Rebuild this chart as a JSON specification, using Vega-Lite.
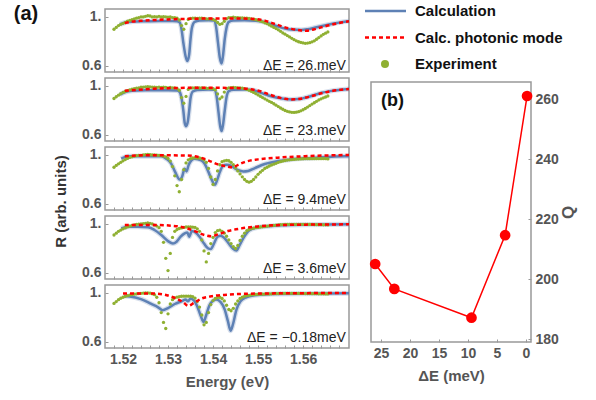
{
"$schema":"https://vega.github.io/schema/vega-lite/v6.json",
"padding":{"left":12,"top":3,"right":4,"bottom":4},
"config":{
 "font":"Liberation Sans",
 "view":{"stroke":"#999","strokeWidth":1.5},
 "axis":{"labelFont":"Liberation Sans","labelFontWeight":"bold","labelFontSize":14,"labelColor":"#555","titleFont":"Liberation Sans","titleFontWeight":"bold","titleFontSize":15,"titleColor":"#555","domain":false,"grid":false,"tickColor":"#999","tickSize":-3,"tickWidth":1,"labelPadding":7,"labelOverlap":false,"labelFlush":false}
},
"datasets":{
"calc":[
{"p":1,"x":1.5193,"y":0.94},{"p":1,"x":1.5205,"y":0.955},{"p":1,"x":1.522,"y":0.962},{"p":1,"x":1.525,"y":0.966},{"p":1,"x":1.528,"y":0.968},{"p":1,"x":1.531,"y":0.968},{"p":1,"x":1.532,"y":0.965},{"p":1,"x":1.5326,"y":0.955},{"p":1,"x":1.533,"y":0.9},{"p":1,"x":1.5334,"y":0.79},{"p":1,"x":1.5339,"y":0.68},{"p":1,"x":1.5343,"y":0.64},{"p":1,"x":1.5347,"y":0.695},{"p":1,"x":1.535,"y":0.82},{"p":1,"x":1.5353,"y":0.91},{"p":1,"x":1.5359,"y":0.96},{"p":1,"x":1.537,"y":0.972},{"p":1,"x":1.539,"y":0.974},{"p":1,"x":1.5402,"y":0.97},{"p":1,"x":1.5407,"y":0.913},{"p":1,"x":1.5411,"y":0.79},{"p":1,"x":1.5415,"y":0.668},{"p":1,"x":1.5419,"y":0.62},{"p":1,"x":1.5422,"y":0.68},{"p":1,"x":1.5426,"y":0.82},{"p":1,"x":1.543,"y":0.913},{"p":1,"x":1.5435,"y":0.96},{"p":1,"x":1.5445,"y":0.972},{"p":1,"x":1.547,"y":0.973},{"p":1,"x":1.5495,"y":0.97},{"p":1,"x":1.5515,"y":0.958},{"p":1,"x":1.553,"y":0.94},{"p":1,"x":1.5544,"y":0.922},{"p":1,"x":1.556,"y":0.905},{"p":1,"x":1.5574,"y":0.897},{"p":1,"x":1.5596,"y":0.894},{"p":1,"x":1.561,"y":0.9},{"p":1,"x":1.5625,"y":0.912},{"p":1,"x":1.564,"y":0.925},{"p":1,"x":1.5655,"y":0.937},{"p":1,"x":1.567,"y":0.948},{"p":1,"x":1.5685,"y":0.958},{"p":1,"x":1.5702,"y":0.966},
{"p":2,"x":1.5193,"y":0.93},{"p":2,"x":1.5205,"y":0.95},{"p":2,"x":1.522,"y":0.96},{"p":2,"x":1.525,"y":0.965},{"p":2,"x":1.53,"y":0.966},{"p":2,"x":1.532,"y":0.963},{"p":2,"x":1.5326,"y":0.95},{"p":2,"x":1.533,"y":0.9},{"p":2,"x":1.5334,"y":0.8},{"p":2,"x":1.5337,"y":0.7},{"p":2,"x":1.534,"y":0.672},{"p":2,"x":1.5344,"y":0.71},{"p":2,"x":1.5347,"y":0.8},{"p":2,"x":1.535,"y":0.9},{"p":2,"x":1.5355,"y":0.955},{"p":2,"x":1.5365,"y":0.968},{"p":2,"x":1.539,"y":0.972},{"p":2,"x":1.5403,"y":0.968},{"p":2,"x":1.5408,"y":0.913},{"p":2,"x":1.5412,"y":0.79},{"p":2,"x":1.5416,"y":0.67},{"p":2,"x":1.5419,"y":0.632},{"p":2,"x":1.5422,"y":0.68},{"p":2,"x":1.5426,"y":0.8},{"p":2,"x":1.543,"y":0.91},{"p":2,"x":1.5435,"y":0.958},{"p":2,"x":1.5445,"y":0.97},{"p":2,"x":1.547,"y":0.972},{"p":2,"x":1.549,"y":0.965},{"p":2,"x":1.5507,"y":0.944},{"p":2,"x":1.5525,"y":0.92},{"p":2,"x":1.5544,"y":0.904},{"p":2,"x":1.556,"y":0.894},{"p":2,"x":1.5574,"y":0.89},{"p":2,"x":1.559,"y":0.893},{"p":2,"x":1.5604,"y":0.904},{"p":2,"x":1.562,"y":0.92},{"p":2,"x":1.5641,"y":0.944},{"p":2,"x":1.566,"y":0.958},{"p":2,"x":1.568,"y":0.968},{"p":2,"x":1.5702,"y":0.975},
{"p":3,"x":1.5196,"y":0.97},{"p":3,"x":1.5211,"y":0.989},{"p":3,"x":1.525,"y":0.99},{"p":3,"x":1.5285,"y":0.99},{"p":3,"x":1.5296,"y":0.97},{"p":3,"x":1.5307,"y":0.93},{"p":3,"x":1.5316,"y":0.86},{"p":3,"x":1.5326,"y":0.8},{"p":3,"x":1.5331,"y":0.82},{"p":3,"x":1.5337,"y":0.888},{"p":3,"x":1.5341,"y":0.866},{"p":3,"x":1.5346,"y":0.92},{"p":3,"x":1.5352,"y":0.956},{"p":3,"x":1.5359,"y":0.97},{"p":3,"x":1.5374,"y":0.956},{"p":3,"x":1.5381,"y":0.93},{"p":3,"x":1.539,"y":0.86},{"p":3,"x":1.5398,"y":0.79},{"p":3,"x":1.5404,"y":0.756},{"p":3,"x":1.541,"y":0.805},{"p":3,"x":1.5415,"y":0.86},{"p":3,"x":1.5422,"y":0.91},{"p":3,"x":1.543,"y":0.92},{"p":3,"x":1.5441,"y":0.91},{"p":3,"x":1.5452,"y":0.882},{"p":3,"x":1.5467,"y":0.866},{"p":3,"x":1.5478,"y":0.87},{"p":3,"x":1.5493,"y":0.893},{"p":3,"x":1.5515,"y":0.926},{"p":3,"x":1.5544,"y":0.95},{"p":3,"x":1.5574,"y":0.964},{"p":3,"x":1.5619,"y":0.975},{"p":3,"x":1.5693,"y":0.99},{"p":3,"x":1.5702,"y":0.99},
{"p":4,"x":1.5196,"y":0.964},{"p":4,"x":1.5211,"y":0.978},{"p":4,"x":1.5233,"y":0.978},{"p":4,"x":1.5256,"y":0.973},{"p":4,"x":1.527,"y":0.951},{"p":4,"x":1.5285,"y":0.91},{"p":4,"x":1.53,"y":0.86},{"p":4,"x":1.5311,"y":0.84},{"p":4,"x":1.5319,"y":0.855},{"p":4,"x":1.5328,"y":0.896},{"p":4,"x":1.5337,"y":0.923},{"p":4,"x":1.5343,"y":0.93},{"p":4,"x":1.5347,"y":0.896},{"p":4,"x":1.5353,"y":0.942},{"p":4,"x":1.5361,"y":0.93},{"p":4,"x":1.537,"y":0.896},{"p":4,"x":1.538,"y":0.84},{"p":4,"x":1.5389,"y":0.8},{"p":4,"x":1.5395,"y":0.795},{"p":4,"x":1.5402,"y":0.84},{"p":4,"x":1.541,"y":0.896},{"p":4,"x":1.5417,"y":0.904},{"p":4,"x":1.5426,"y":0.882},{"p":4,"x":1.5435,"y":0.84},{"p":4,"x":1.5444,"y":0.8},{"p":4,"x":1.5452,"y":0.784},{"p":4,"x":1.5459,"y":0.827},{"p":4,"x":1.5469,"y":0.896},{"p":4,"x":1.5481,"y":0.95},{"p":4,"x":1.55,"y":0.973},{"p":4,"x":1.553,"y":0.984},{"p":4,"x":1.5574,"y":0.992},{"p":4,"x":1.5702,"y":0.997},
{"p":5,"x":1.5202,"y":0.975},{"p":5,"x":1.5215,"y":0.972},{"p":5,"x":1.524,"y":0.95},{"p":5,"x":1.5263,"y":0.91},{"p":5,"x":1.5278,"y":0.883},{"p":5,"x":1.5288,"y":0.86},{"p":5,"x":1.53,"y":0.877},{"p":5,"x":1.5315,"y":0.91},{"p":5,"x":1.533,"y":0.932},{"p":5,"x":1.5339,"y":0.946},{"p":5,"x":1.5344,"y":0.932},{"p":5,"x":1.535,"y":0.954},{"p":5,"x":1.5358,"y":0.937},{"p":5,"x":1.5365,"y":0.89},{"p":5,"x":1.5373,"y":0.81},{"p":5,"x":1.5379,"y":0.763},{"p":5,"x":1.5384,"y":0.81},{"p":5,"x":1.5392,"y":0.9},{"p":5,"x":1.54,"y":0.937},{"p":5,"x":1.5407,"y":0.946},{"p":5,"x":1.5417,"y":0.926},{"p":5,"x":1.5426,"y":0.864},{"p":5,"x":1.5433,"y":0.77},{"p":5,"x":1.5439,"y":0.692},{"p":5,"x":1.5444,"y":0.741},{"p":5,"x":1.5452,"y":0.864},{"p":5,"x":1.5461,"y":0.932},{"p":5,"x":1.5474,"y":0.965},{"p":5,"x":1.5493,"y":0.981},{"p":5,"x":1.553,"y":0.992},{"p":5,"x":1.5702,"y":0.997}
],
"phot":[
{"p":1,"x":1.5204,"y":0.95},{"p":1,"x":1.522,"y":0.962},{"p":1,"x":1.5245,"y":0.97},{"p":1,"x":1.527,"y":0.975},{"p":1,"x":1.53,"y":0.98},{"p":1,"x":1.535,"y":0.985},{"p":1,"x":1.54,"y":0.988},{"p":1,"x":1.545,"y":0.988},{"p":1,"x":1.549,"y":0.984},{"p":1,"x":1.5515,"y":0.97},{"p":1,"x":1.553,"y":0.952},{"p":1,"x":1.5544,"y":0.935},{"p":1,"x":1.556,"y":0.915},{"p":1,"x":1.5574,"y":0.903},{"p":1,"x":1.5596,"y":0.89},{"p":1,"x":1.561,"y":0.888},{"p":1,"x":1.5625,"y":0.9},{"p":1,"x":1.564,"y":0.915},{"p":1,"x":1.5655,"y":0.93},{"p":1,"x":1.567,"y":0.943},{"p":1,"x":1.5685,"y":0.955},{"p":1,"x":1.5702,"y":0.965},
{"p":2,"x":1.5204,"y":0.96},{"p":2,"x":1.523,"y":0.968},{"p":2,"x":1.527,"y":0.978},{"p":2,"x":1.53,"y":0.982},{"p":2,"x":1.535,"y":0.985},{"p":2,"x":1.54,"y":0.985},{"p":2,"x":1.545,"y":0.983},{"p":2,"x":1.548,"y":0.975},{"p":2,"x":1.5507,"y":0.955},{"p":2,"x":1.5525,"y":0.93},{"p":2,"x":1.5544,"y":0.908},{"p":2,"x":1.556,"y":0.895},{"p":2,"x":1.5574,"y":0.89},{"p":2,"x":1.559,"y":0.893},{"p":2,"x":1.5604,"y":0.903},{"p":2,"x":1.562,"y":0.918},{"p":2,"x":1.5641,"y":0.94},{"p":2,"x":1.566,"y":0.956},{"p":2,"x":1.568,"y":0.968},{"p":2,"x":1.5702,"y":0.975},
{"p":3,"x":1.5204,"y":0.99},{"p":3,"x":1.525,"y":0.997},{"p":3,"x":1.53,"y":0.997},{"p":3,"x":1.5344,"y":0.995},{"p":3,"x":1.5367,"y":0.984},{"p":3,"x":1.5389,"y":0.956},{"p":3,"x":1.5411,"y":0.923},{"p":3,"x":1.543,"y":0.907},{"p":3,"x":1.5444,"y":0.9},{"p":3,"x":1.5456,"y":0.92},{"p":3,"x":1.547,"y":0.942},{"p":3,"x":1.55,"y":0.964},{"p":3,"x":1.5544,"y":0.978},{"p":3,"x":1.5604,"y":0.99},{"p":3,"x":1.5702,"y":1.0},
{"p":4,"x":1.5204,"y":0.992},{"p":4,"x":1.527,"y":0.992},{"p":4,"x":1.5307,"y":0.986},{"p":4,"x":1.5337,"y":0.97},{"p":4,"x":1.5359,"y":0.942},{"p":4,"x":1.5381,"y":0.91},{"p":4,"x":1.5396,"y":0.9},{"p":4,"x":1.5411,"y":0.915},{"p":4,"x":1.5433,"y":0.942},{"p":4,"x":1.5463,"y":0.964},{"p":4,"x":1.55,"y":0.98},{"p":4,"x":1.5559,"y":0.992},{"p":4,"x":1.5702,"y":0.997},
{"p":5,"x":1.52,"y":0.995},{"p":5,"x":1.527,"y":0.995},{"p":5,"x":1.5293,"y":0.986},{"p":5,"x":1.5315,"y":0.959},{"p":5,"x":1.5333,"y":0.926},{"p":5,"x":1.5345,"y":0.895},{"p":5,"x":1.5358,"y":0.92},{"p":5,"x":1.5374,"y":0.954},{"p":5,"x":1.5396,"y":0.973},{"p":5,"x":1.5433,"y":0.986},{"p":5,"x":1.5493,"y":0.995},{"p":5,"x":1.5702,"y":1.0}
],
"exp":[
{"p":1,"x":1.518,"y":0.9},{"p":1,"x":1.5185,"y":0.915},{"p":1,"x":1.519,"y":0.93},{"p":1,"x":1.5195,"y":0.94},{"p":1,"x":1.52,"y":0.948},{"p":1,"x":1.5205,"y":0.955},{"p":1,"x":1.521,"y":0.965},{"p":1,"x":1.5215,"y":0.972},{"p":1,"x":1.522,"y":0.978},{"p":1,"x":1.5225,"y":0.985},{"p":1,"x":1.523,"y":0.99},{"p":1,"x":1.5235,"y":0.995},{"p":1,"x":1.524,"y":1.0},{"p":1,"x":1.5245,"y":1.0},{"p":1,"x":1.525,"y":1.005},{"p":1,"x":1.5255,"y":1.01},{"p":1,"x":1.526,"y":1.008},{"p":1,"x":1.5265,"y":1.0},{"p":1,"x":1.527,"y":1.003},{"p":1,"x":1.5275,"y":1.0},{"p":1,"x":1.528,"y":1.005},{"p":1,"x":1.5285,"y":1.0},{"p":1,"x":1.529,"y":1.002},{"p":1,"x":1.5295,"y":1.0},{"p":1,"x":1.53,"y":0.998},{"p":1,"x":1.5305,"y":1.0},{"p":1,"x":1.531,"y":0.995},{"p":1,"x":1.5315,"y":0.995},{"p":1,"x":1.532,"y":0.99},{"p":1,"x":1.5325,"y":0.975},{"p":1,"x":1.533,"y":0.93},{"p":1,"x":1.5335,"y":0.9},{"p":1,"x":1.534,"y":0.945},{"p":1,"x":1.5345,"y":0.98},{"p":1,"x":1.535,"y":0.988},{"p":1,"x":1.5355,"y":0.99},{"p":1,"x":1.536,"y":0.99},{"p":1,"x":1.5365,"y":0.988},{"p":1,"x":1.537,"y":0.99},{"p":1,"x":1.5375,"y":0.99},{"p":1,"x":1.538,"y":0.988},{"p":1,"x":1.5385,"y":0.985},{"p":1,"x":1.539,"y":0.985},{"p":1,"x":1.5395,"y":0.985},{"p":1,"x":1.54,"y":0.98},{"p":1,"x":1.5405,"y":0.972},{"p":1,"x":1.541,"y":0.955},{"p":1,"x":1.5415,"y":0.94},{"p":1,"x":1.542,"y":0.945},{"p":1,"x":1.5425,"y":0.965},{"p":1,"x":1.543,"y":0.985},{"p":1,"x":1.5435,"y":0.995},{"p":1,"x":1.544,"y":0.995},{"p":1,"x":1.5445,"y":0.998},{"p":1,"x":1.545,"y":0.995},{"p":1,"x":1.5455,"y":0.995},{"p":1,"x":1.546,"y":0.993},{"p":1,"x":1.5465,"y":0.993},{"p":1,"x":1.547,"y":0.99},{"p":1,"x":1.5475,"y":0.99},{"p":1,"x":1.548,"y":0.988},{"p":1,"x":1.5485,"y":0.985},{"p":1,"x":1.549,"y":0.982},{"p":1,"x":1.5495,"y":0.978},{"p":1,"x":1.55,"y":0.973},{"p":1,"x":1.5505,"y":0.967},{"p":1,"x":1.551,"y":0.96},{"p":1,"x":1.5515,"y":0.953},{"p":1,"x":1.552,"y":0.945},{"p":1,"x":1.5525,"y":0.935},{"p":1,"x":1.553,"y":0.925},{"p":1,"x":1.5535,"y":0.915},{"p":1,"x":1.554,"y":0.905},{"p":1,"x":1.5545,"y":0.895},{"p":1,"x":1.555,"y":0.883},{"p":1,"x":1.5555,"y":0.87},{"p":1,"x":1.556,"y":0.86},{"p":1,"x":1.5565,"y":0.848},{"p":1,"x":1.557,"y":0.837},{"p":1,"x":1.5575,"y":0.826},{"p":1,"x":1.558,"y":0.815},{"p":1,"x":1.5585,"y":0.805},{"p":1,"x":1.559,"y":0.798},{"p":1,"x":1.5595,"y":0.792},{"p":1,"x":1.56,"y":0.788},{"p":1,"x":1.5605,"y":0.785},{"p":1,"x":1.561,"y":0.787},{"p":1,"x":1.5615,"y":0.79},{"p":1,"x":1.562,"y":0.797},{"p":1,"x":1.5625,"y":0.805},{"p":1,"x":1.563,"y":0.818},{"p":1,"x":1.5635,"y":0.832},{"p":1,"x":1.564,"y":0.845},{"p":1,"x":1.5645,"y":0.858},{"p":1,"x":1.565,"y":0.868},{"p":1,"x":1.5655,"y":0.878},
{"p":2,"x":1.518,"y":0.898},{"p":2,"x":1.5185,"y":0.912},{"p":2,"x":1.519,"y":0.925},{"p":2,"x":1.5195,"y":0.937},{"p":2,"x":1.52,"y":0.947},{"p":2,"x":1.5205,"y":0.955},{"p":2,"x":1.521,"y":0.962},{"p":2,"x":1.5215,"y":0.968},{"p":2,"x":1.522,"y":0.973},{"p":2,"x":1.5225,"y":0.978},{"p":2,"x":1.523,"y":0.982},{"p":2,"x":1.5235,"y":0.985},{"p":2,"x":1.524,"y":0.99},{"p":2,"x":1.5245,"y":0.99},{"p":2,"x":1.525,"y":0.993},{"p":2,"x":1.5255,"y":0.995},{"p":2,"x":1.526,"y":0.993},{"p":2,"x":1.5265,"y":0.99},{"p":2,"x":1.527,"y":0.99},{"p":2,"x":1.5275,"y":0.988},{"p":2,"x":1.528,"y":0.99},{"p":2,"x":1.5285,"y":0.988},{"p":2,"x":1.529,"y":0.99},{"p":2,"x":1.5295,"y":0.988},{"p":2,"x":1.53,"y":0.985},{"p":2,"x":1.5305,"y":0.988},{"p":2,"x":1.531,"y":0.985},{"p":2,"x":1.5315,"y":0.985},{"p":2,"x":1.532,"y":0.98},{"p":2,"x":1.5325,"y":0.965},{"p":2,"x":1.533,"y":0.905},{"p":2,"x":1.5335,"y":0.86},{"p":2,"x":1.534,"y":0.915},{"p":2,"x":1.5345,"y":0.972},{"p":2,"x":1.535,"y":0.982},{"p":2,"x":1.5355,"y":0.985},{"p":2,"x":1.536,"y":0.985},{"p":2,"x":1.5365,"y":0.984},{"p":2,"x":1.537,"y":0.984},{"p":2,"x":1.5375,"y":0.984},{"p":2,"x":1.538,"y":0.982},{"p":2,"x":1.5385,"y":0.982},{"p":2,"x":1.539,"y":0.98},{"p":2,"x":1.5395,"y":0.98},{"p":2,"x":1.54,"y":0.978},{"p":2,"x":1.5405,"y":0.968},{"p":2,"x":1.541,"y":0.935},{"p":2,"x":1.5415,"y":0.895},{"p":2,"x":1.542,"y":0.91},{"p":2,"x":1.5425,"y":0.95},{"p":2,"x":1.543,"y":0.978},{"p":2,"x":1.5435,"y":0.985},{"p":2,"x":1.544,"y":0.987},{"p":2,"x":1.5445,"y":0.988},{"p":2,"x":1.545,"y":0.987},{"p":2,"x":1.5455,"y":0.985},{"p":2,"x":1.546,"y":0.985},{"p":2,"x":1.5465,"y":0.983},{"p":2,"x":1.547,"y":0.978},{"p":2,"x":1.5475,"y":0.972},{"p":2,"x":1.548,"y":0.965},{"p":2,"x":1.5485,"y":0.957},{"p":2,"x":1.549,"y":0.947},{"p":2,"x":1.5495,"y":0.937},{"p":2,"x":1.55,"y":0.927},{"p":2,"x":1.5505,"y":0.916},{"p":2,"x":1.551,"y":0.905},{"p":2,"x":1.5515,"y":0.895},{"p":2,"x":1.552,"y":0.885},{"p":2,"x":1.5525,"y":0.875},{"p":2,"x":1.553,"y":0.866},{"p":2,"x":1.5535,"y":0.855},{"p":2,"x":1.554,"y":0.843},{"p":2,"x":1.5545,"y":0.832},{"p":2,"x":1.555,"y":0.82},{"p":2,"x":1.5555,"y":0.81},{"p":2,"x":1.556,"y":0.8},{"p":2,"x":1.5565,"y":0.793},{"p":2,"x":1.557,"y":0.788},{"p":2,"x":1.5575,"y":0.785},{"p":2,"x":1.558,"y":0.784},{"p":2,"x":1.5585,"y":0.786},{"p":2,"x":1.559,"y":0.79},{"p":2,"x":1.5595,"y":0.797},{"p":2,"x":1.56,"y":0.806},{"p":2,"x":1.5605,"y":0.816},{"p":2,"x":1.561,"y":0.828},{"p":2,"x":1.5615,"y":0.84},{"p":2,"x":1.562,"y":0.852},{"p":2,"x":1.5625,"y":0.863},{"p":2,"x":1.563,"y":0.875},{"p":2,"x":1.5635,"y":0.886},{"p":2,"x":1.564,"y":0.895},{"p":2,"x":1.5645,"y":0.903},{"p":2,"x":1.565,"y":0.91},{"p":2,"x":1.5655,"y":0.918},
{"p":3,"x":1.518,"y":0.9},{"p":3,"x":1.5185,"y":0.915},{"p":3,"x":1.519,"y":0.928},{"p":3,"x":1.5195,"y":0.94},{"p":3,"x":1.52,"y":0.952},{"p":3,"x":1.5205,"y":0.962},{"p":3,"x":1.521,"y":0.972},{"p":3,"x":1.5215,"y":0.98},{"p":3,"x":1.522,"y":0.985},{"p":3,"x":1.5225,"y":0.99},{"p":3,"x":1.523,"y":0.995},{"p":3,"x":1.5235,"y":0.997},{"p":3,"x":1.524,"y":0.997},{"p":3,"x":1.5245,"y":1.0},{"p":3,"x":1.525,"y":1.003},{"p":3,"x":1.5255,"y":1.005},{"p":3,"x":1.526,"y":1.002},{"p":3,"x":1.5265,"y":1.0},{"p":3,"x":1.527,"y":1.0},{"p":3,"x":1.5275,"y":0.998},{"p":3,"x":1.528,"y":0.997},{"p":3,"x":1.5285,"y":0.995},{"p":3,"x":1.529,"y":0.99},{"p":3,"x":1.5295,"y":0.985},{"p":3,"x":1.53,"y":0.972},{"p":3,"x":1.5305,"y":0.95},{"p":3,"x":1.531,"y":0.905},{"p":3,"x":1.5315,"y":0.83},{"p":3,"x":1.532,"y":0.75},{"p":3,"x":1.5325,"y":0.7},{"p":3,"x":1.533,"y":0.8},{"p":3,"x":1.5335,"y":0.88},{"p":3,"x":1.534,"y":0.935},{"p":3,"x":1.5345,"y":0.96},{"p":3,"x":1.535,"y":0.97},{"p":3,"x":1.5355,"y":0.975},{"p":3,"x":1.536,"y":0.977},{"p":3,"x":1.5365,"y":0.975},{"p":3,"x":1.537,"y":0.975},{"p":3,"x":1.5375,"y":0.97},{"p":3,"x":1.538,"y":0.96},{"p":3,"x":1.5385,"y":0.94},{"p":3,"x":1.539,"y":0.89},{"p":3,"x":1.5395,"y":0.82},{"p":3,"x":1.54,"y":0.76},{"p":3,"x":1.5405,"y":0.8},{"p":3,"x":1.541,"y":0.87},{"p":3,"x":1.5415,"y":0.92},{"p":3,"x":1.542,"y":0.945},{"p":3,"x":1.5425,"y":0.952},{"p":3,"x":1.543,"y":0.956},{"p":3,"x":1.5435,"y":0.953},{"p":3,"x":1.544,"y":0.94},{"p":3,"x":1.5445,"y":0.92},{"p":3,"x":1.545,"y":0.895},{"p":3,"x":1.5455,"y":0.87},{"p":3,"x":1.546,"y":0.845},{"p":3,"x":1.5465,"y":0.822},{"p":3,"x":1.547,"y":0.8},{"p":3,"x":1.5475,"y":0.785},{"p":3,"x":1.548,"y":0.778},{"p":3,"x":1.5485,"y":0.785},{"p":3,"x":1.549,"y":0.8},{"p":3,"x":1.5495,"y":0.82},{"p":3,"x":1.55,"y":0.842},{"p":3,"x":1.5505,"y":0.86},{"p":3,"x":1.551,"y":0.875},{"p":3,"x":1.5515,"y":0.89},{"p":3,"x":1.552,"y":0.9},{"p":3,"x":1.5525,"y":0.91},{"p":3,"x":1.553,"y":0.918},{"p":3,"x":1.5535,"y":0.925},{"p":3,"x":1.554,"y":0.932},{"p":3,"x":1.5545,"y":0.94},{"p":3,"x":1.555,"y":0.945},{"p":3,"x":1.5555,"y":0.95},{"p":3,"x":1.556,"y":0.955},{"p":3,"x":1.5565,"y":0.958},{"p":3,"x":1.557,"y":0.96},{"p":3,"x":1.5575,"y":0.962},{"p":3,"x":1.558,"y":0.964},{"p":3,"x":1.5585,"y":0.966},{"p":3,"x":1.559,"y":0.967},{"p":3,"x":1.5595,"y":0.968},{"p":3,"x":1.56,"y":0.969},{"p":3,"x":1.5605,"y":0.97},{"p":3,"x":1.561,"y":0.97},{"p":3,"x":1.5615,"y":0.97},{"p":3,"x":1.562,"y":0.97},{"p":3,"x":1.5625,"y":0.97},{"p":3,"x":1.563,"y":0.97},{"p":3,"x":1.5635,"y":0.97},{"p":3,"x":1.564,"y":0.97},{"p":3,"x":1.5645,"y":0.97},{"p":3,"x":1.565,"y":0.97},{"p":3,"x":1.5655,"y":0.968},
{"p":4,"x":1.518,"y":0.91},{"p":4,"x":1.5185,"y":0.925},{"p":4,"x":1.519,"y":0.94},{"p":4,"x":1.5195,"y":0.95},{"p":4,"x":1.52,"y":0.96},{"p":4,"x":1.5205,"y":0.968},{"p":4,"x":1.521,"y":0.976},{"p":4,"x":1.5215,"y":0.983},{"p":4,"x":1.522,"y":0.988},{"p":4,"x":1.5225,"y":0.993},{"p":4,"x":1.523,"y":0.996},{"p":4,"x":1.5235,"y":0.998},{"p":4,"x":1.524,"y":1.0},{"p":4,"x":1.5245,"y":1.003},{"p":4,"x":1.525,"y":1.005},{"p":4,"x":1.5255,"y":1.008},{"p":4,"x":1.526,"y":1.005},{"p":4,"x":1.5265,"y":1.0},{"p":4,"x":1.527,"y":0.99},{"p":4,"x":1.5275,"y":0.983},{"p":4,"x":1.528,"y":0.97},{"p":4,"x":1.5285,"y":0.94},{"p":4,"x":1.529,"y":0.85},{"p":4,"x":1.5295,"y":0.72},{"p":4,"x":1.53,"y":0.62},{"p":4,"x":1.5305,"y":0.76},{"p":4,"x":1.531,"y":0.89},{"p":4,"x":1.5315,"y":0.94},{"p":4,"x":1.532,"y":0.955},{"p":4,"x":1.5325,"y":0.963},{"p":4,"x":1.533,"y":0.968},{"p":4,"x":1.5335,"y":0.972},{"p":4,"x":1.534,"y":0.975},{"p":4,"x":1.5345,"y":0.975},{"p":4,"x":1.535,"y":0.975},{"p":4,"x":1.5355,"y":0.974},{"p":4,"x":1.536,"y":0.972},{"p":4,"x":1.5365,"y":0.96},{"p":4,"x":1.537,"y":0.94},{"p":4,"x":1.5375,"y":0.87},{"p":4,"x":1.538,"y":0.78},{"p":4,"x":1.5385,"y":0.69},{"p":4,"x":1.539,"y":0.76},{"p":4,"x":1.5395,"y":0.84},{"p":4,"x":1.54,"y":0.89},{"p":4,"x":1.5405,"y":0.93},{"p":4,"x":1.541,"y":0.945},{"p":4,"x":1.5415,"y":0.95},{"p":4,"x":1.542,"y":0.94},{"p":4,"x":1.5425,"y":0.925},{"p":4,"x":1.543,"y":0.9},{"p":4,"x":1.5435,"y":0.87},{"p":4,"x":1.544,"y":0.84},{"p":4,"x":1.5445,"y":0.815},{"p":4,"x":1.545,"y":0.8},{"p":4,"x":1.5455,"y":0.825},{"p":4,"x":1.546,"y":0.865},{"p":4,"x":1.5465,"y":0.9},{"p":4,"x":1.547,"y":0.925},{"p":4,"x":1.5475,"y":0.945},{"p":4,"x":1.548,"y":0.955},{"p":4,"x":1.5485,"y":0.962},{"p":4,"x":1.549,"y":0.966},{"p":4,"x":1.5495,"y":0.97},{"p":4,"x":1.55,"y":0.972},{"p":4,"x":1.5505,"y":0.975},{"p":4,"x":1.551,"y":0.977},{"p":4,"x":1.5515,"y":0.979},{"p":4,"x":1.552,"y":0.982},{"p":4,"x":1.5525,"y":0.985},{"p":4,"x":1.553,"y":0.987},{"p":4,"x":1.5535,"y":0.989},{"p":4,"x":1.554,"y":0.991},{"p":4,"x":1.5545,"y":0.992},{"p":4,"x":1.555,"y":0.994},{"p":4,"x":1.5555,"y":0.995},{"p":4,"x":1.556,"y":0.996},{"p":4,"x":1.5565,"y":0.997},{"p":4,"x":1.557,"y":0.997},{"p":4,"x":1.5575,"y":0.997},{"p":4,"x":1.558,"y":0.997},{"p":4,"x":1.5585,"y":0.997},{"p":4,"x":1.559,"y":0.997},{"p":4,"x":1.5595,"y":0.997},{"p":4,"x":1.56,"y":0.997},{"p":4,"x":1.5605,"y":0.997},{"p":4,"x":1.561,"y":0.996},{"p":4,"x":1.5615,"y":0.996},{"p":4,"x":1.562,"y":0.996},{"p":4,"x":1.5625,"y":0.995},{"p":4,"x":1.563,"y":0.995},{"p":4,"x":1.5635,"y":0.994},{"p":4,"x":1.564,"y":0.994},{"p":4,"x":1.5645,"y":0.993},{"p":4,"x":1.565,"y":0.993},{"p":4,"x":1.5655,"y":0.992},
{"p":5,"x":1.518,"y":0.915},{"p":5,"x":1.5185,"y":0.93},{"p":5,"x":1.519,"y":0.945},{"p":5,"x":1.5195,"y":0.957},{"p":5,"x":1.52,"y":0.965},{"p":5,"x":1.5205,"y":0.972},{"p":5,"x":1.521,"y":0.978},{"p":5,"x":1.5215,"y":0.983},{"p":5,"x":1.522,"y":0.986},{"p":5,"x":1.5225,"y":0.99},{"p":5,"x":1.523,"y":0.993},{"p":5,"x":1.5235,"y":0.995},{"p":5,"x":1.524,"y":0.997},{"p":5,"x":1.5245,"y":0.998},{"p":5,"x":1.525,"y":1.0},{"p":5,"x":1.5255,"y":1.0},{"p":5,"x":1.526,"y":0.998},{"p":5,"x":1.5265,"y":0.993},{"p":5,"x":1.527,"y":0.986},{"p":5,"x":1.5275,"y":0.965},{"p":5,"x":1.528,"y":0.92},{"p":5,"x":1.5285,"y":0.84},{"p":5,"x":1.529,"y":0.76},{"p":5,"x":1.5295,"y":0.71},{"p":5,"x":1.53,"y":0.83},{"p":5,"x":1.5305,"y":0.91},{"p":5,"x":1.531,"y":0.945},{"p":5,"x":1.5315,"y":0.96},{"p":5,"x":1.532,"y":0.966},{"p":5,"x":1.5325,"y":0.97},{"p":5,"x":1.533,"y":0.973},{"p":5,"x":1.5335,"y":0.974},{"p":5,"x":1.534,"y":0.974},{"p":5,"x":1.5345,"y":0.974},{"p":5,"x":1.535,"y":0.973},{"p":5,"x":1.5355,"y":0.97},{"p":5,"x":1.536,"y":0.958},{"p":5,"x":1.5365,"y":0.93},{"p":5,"x":1.537,"y":0.885},{"p":5,"x":1.5375,"y":0.82},{"p":5,"x":1.538,"y":0.74},{"p":5,"x":1.5385,"y":0.76},{"p":5,"x":1.539,"y":0.84},{"p":5,"x":1.5395,"y":0.905},{"p":5,"x":1.54,"y":0.938},{"p":5,"x":1.5405,"y":0.955},{"p":5,"x":1.541,"y":0.962},{"p":5,"x":1.5415,"y":0.965},{"p":5,"x":1.542,"y":0.955},{"p":5,"x":1.5425,"y":0.935},{"p":5,"x":1.543,"y":0.9},{"p":5,"x":1.5435,"y":0.865},{"p":5,"x":1.544,"y":0.855},{"p":5,"x":1.5445,"y":0.875},{"p":5,"x":1.545,"y":0.91},{"p":5,"x":1.5455,"y":0.935},{"p":5,"x":1.546,"y":0.955},{"p":5,"x":1.5465,"y":0.966},{"p":5,"x":1.547,"y":0.973},{"p":5,"x":1.5475,"y":0.978},{"p":5,"x":1.548,"y":0.981},{"p":5,"x":1.5485,"y":0.984},{"p":5,"x":1.549,"y":0.986},{"p":5,"x":1.5495,"y":0.988},{"p":5,"x":1.55,"y":0.989},{"p":5,"x":1.5505,"y":0.99},{"p":5,"x":1.551,"y":0.99},{"p":5,"x":1.5515,"y":0.991},{"p":5,"x":1.552,"y":0.992},{"p":5,"x":1.5525,"y":0.992},{"p":5,"x":1.553,"y":0.993},{"p":5,"x":1.5535,"y":0.994},{"p":5,"x":1.554,"y":0.995},{"p":5,"x":1.5545,"y":0.995},{"p":5,"x":1.555,"y":0.996},{"p":5,"x":1.5555,"y":0.997},{"p":5,"x":1.556,"y":0.997},{"p":5,"x":1.5565,"y":0.997},{"p":5,"x":1.557,"y":0.997},{"p":5,"x":1.5575,"y":0.997},{"p":5,"x":1.558,"y":0.997},{"p":5,"x":1.5585,"y":0.997},{"p":5,"x":1.559,"y":0.996},{"p":5,"x":1.5595,"y":0.996},{"p":5,"x":1.56,"y":0.996},{"p":5,"x":1.5605,"y":0.995},{"p":5,"x":1.561,"y":0.995},{"p":5,"x":1.5615,"y":0.995},{"p":5,"x":1.562,"y":0.994},{"p":5,"x":1.5625,"y":0.994},{"p":5,"x":1.563,"y":0.994},{"p":5,"x":1.5635,"y":0.993},{"p":5,"x":1.564,"y":0.993},{"p":5,"x":1.5645,"y":0.993},{"p":5,"x":1.565,"y":0.992},{"p":5,"x":1.5655,"y":0.992}
],
"lab":[{"p":1,"t":"ΔE = 26.meV"},{"p":2,"t":"ΔE = 23.meV"},{"p":3,"t":"ΔE = 9.4meV"},{"p":4,"t":"ΔE = 3.6meV"},{"p":5,"t":"ΔE = −0.18meV"}],
"tag":[{"t":"(a)"},{"t":"(b)"}],
"leg":[{"label":"Calculation"},{"label":"Calc. photonic mode"},{"label":"Experiment"}],
"q":[{"dE":26.0,"Q":205.0},{"dE":22.7,"Q":196.7},{"dE":9.4,"Q":187.1},{"dE":3.6,"Q":214.6},{"dE":-0.18,"Q":261.0}]
},
"spacing":3,
"hconcat":[
{"vconcat":[
 {"width":244,"height":63,
  "layer":[
   {"encoding":{"x":{"field":"x","type":"quantitative","scale":{"domain":[1.516,1.5702],"nice":false,"zero":false},"axis":{"values":[1.518,1.52,1.522,1.524,1.526,1.528,1.53,1.532,1.534,1.536,1.538,1.54,1.542,1.544,1.546,1.548,1.55,1.552,1.554,1.556,1.558,1.56,1.562,1.564,1.566,1.568],"labels":false,"title":null}},
     "y":{"field":"y","type":"quantitative","scale":{"domain":[0.551,1.065],"nice":false,"zero":false},"axis":{"values":[0.6,1],"labelExpr":"datum.value==1?'1.':'0.6'","title":null}}},
    "layer":[
     {"data":{"name":"calc"},"transform":[{"filter":"datum.p==1"}],"mark":{"type":"line","color":"#5E81B5","strokeWidth":5,"opacity":0.25,"interpolate":"monotone"}},
     {"data":{"name":"calc"},"transform":[{"filter":"datum.p==1"}],"mark":{"type":"line","color":"#5E81B5","strokeWidth":2.5,"interpolate":"monotone"}},
     {"data":{"name":"exp"},"transform":[{"filter":"datum.p==1"}],"mark":{"type":"circle","color":"#8FB032","size":11,"opacity":1}},
     {"data":{"name":"phot"},"transform":[{"filter":"datum.p==1"}],"mark":{"type":"line","color":"#FF0000","strokeWidth":2.5,"strokeDash":[4,3],"interpolate":"monotone"}}
    ]},
   {"data":{"name":"lab"},"transform":[{"filter":"datum.p==1"}],"mark":{"type":"text","align":"right","baseline":"alphabetic","fontSize":14,"color":"#222"},"encoding":{"x":{"datum":1.5695,"type":"quantitative","axis":{"values":[1.518,1.52,1.522,1.524,1.526,1.528,1.53,1.532,1.534,1.536,1.538,1.54,1.542,1.544,1.546,1.548,1.55,1.552,1.554,1.556,1.558,1.56,1.562,1.564,1.566,1.568],"labels":false,"title":null}},"y":{"datum":0.567,"type":"quantitative","axis":{"values":[0.6,1],"labelExpr":"datum.value==1?'1.':'0.6'","title":null}},"text":{"field":"t","type":"nominal"}}},
   {"data":{"name":"tag"},"transform":[{"filter":"datum.t=='(a)'"}],"mark":{"type":"text","align":"center","baseline":"middle","fontSize":20,"fontWeight":"bold","color":"#111"},"encoding":{"x":{"datum":1.49844,"type":"quantitative","axis":{"values":[1.518,1.52,1.522,1.524,1.526,1.528,1.53,1.532,1.534,1.536,1.538,1.54,1.542,1.544,1.546,1.548,1.55,1.552,1.554,1.556,1.558,1.56,1.562,1.564,1.566,1.568],"labels":false,"title":null}},"y":{"datum":1.024,"type":"quantitative","axis":{"values":[0.6,1],"labelExpr":"datum.value==1?'1.':'0.6'","title":null}},"text":{"field":"t","type":"nominal"}}}
  ]},
 {"width":244,"height":63,
  "layer":[
   {"encoding":{"x":{"field":"x","type":"quantitative","scale":{"domain":[1.516,1.5702],"nice":false,"zero":false},"axis":{"values":[1.518,1.52,1.522,1.524,1.526,1.528,1.53,1.532,1.534,1.536,1.538,1.54,1.542,1.544,1.546,1.548,1.55,1.552,1.554,1.556,1.558,1.56,1.562,1.564,1.566,1.568],"labels":false,"title":null}},
     "y":{"field":"y","type":"quantitative","scale":{"domain":[0.551,1.065],"nice":false,"zero":false},"axis":{"values":[0.6,1],"labelExpr":"datum.value==1?'1.':'0.6'","title":null}}},
    "layer":[
     {"data":{"name":"calc"},"transform":[{"filter":"datum.p==2"}],"mark":{"type":"line","color":"#5E81B5","strokeWidth":5,"opacity":0.25,"interpolate":"monotone"}},
     {"data":{"name":"calc"},"transform":[{"filter":"datum.p==2"}],"mark":{"type":"line","color":"#5E81B5","strokeWidth":2.5,"interpolate":"monotone"}},
     {"data":{"name":"exp"},"transform":[{"filter":"datum.p==2"}],"mark":{"type":"circle","color":"#8FB032","size":11,"opacity":1}},
     {"data":{"name":"phot"},"transform":[{"filter":"datum.p==2"}],"mark":{"type":"line","color":"#FF0000","strokeWidth":2.5,"strokeDash":[4,3],"interpolate":"monotone"}}
    ]},
   {"data":{"name":"lab"},"transform":[{"filter":"datum.p==2"}],"mark":{"type":"text","align":"right","baseline":"alphabetic","fontSize":14,"color":"#222"},"encoding":{"x":{"datum":1.5695,"type":"quantitative","axis":{"values":[1.518,1.52,1.522,1.524,1.526,1.528,1.53,1.532,1.534,1.536,1.538,1.54,1.542,1.544,1.546,1.548,1.55,1.552,1.554,1.556,1.558,1.56,1.562,1.564,1.566,1.568],"labels":false,"title":null}},"y":{"datum":0.6,"type":"quantitative","axis":{"values":[0.6,1],"labelExpr":"datum.value==1?'1.':'0.6'","title":null}},"text":{"field":"t","type":"nominal"}}}
  ]},
 {"width":244,"height":63,
  "layer":[
   {"encoding":{"x":{"field":"x","type":"quantitative","scale":{"domain":[1.516,1.5702],"nice":false,"zero":false},"axis":{"values":[1.518,1.52,1.522,1.524,1.526,1.528,1.53,1.532,1.534,1.536,1.538,1.54,1.542,1.544,1.546,1.548,1.55,1.552,1.554,1.556,1.558,1.56,1.562,1.564,1.566,1.568],"labels":false,"title":null}},
     "y":{"field":"y","type":"quantitative","scale":{"domain":[0.551,1.065],"nice":false,"zero":false},"axis":{"values":[0.6,1],"labelExpr":"datum.value==1?'1.':'0.6'","title":"R (arb. units)","titleX":-45,"titleY":54,"titleAngle":270,"titleBaseline":"middle","titleAlign":"center","titleColor":"#333"}}},
    "layer":[
     {"data":{"name":"calc"},"transform":[{"filter":"datum.p==3"}],"mark":{"type":"line","color":"#5E81B5","strokeWidth":5,"opacity":0.25,"interpolate":"monotone"}},
     {"data":{"name":"calc"},"transform":[{"filter":"datum.p==3"}],"mark":{"type":"line","color":"#5E81B5","strokeWidth":2.5,"interpolate":"monotone"}},
     {"data":{"name":"exp"},"transform":[{"filter":"datum.p==3"}],"mark":{"type":"circle","color":"#8FB032","size":11,"opacity":1}},
     {"data":{"name":"phot"},"transform":[{"filter":"datum.p==3"}],"mark":{"type":"line","color":"#FF0000","strokeWidth":2.5,"strokeDash":[4,3],"interpolate":"monotone"}}
    ]},
   {"data":{"name":"lab"},"transform":[{"filter":"datum.p==3"}],"mark":{"type":"text","align":"right","baseline":"alphabetic","fontSize":14,"color":"#222"},"encoding":{"x":{"datum":1.5695,"type":"quantitative","axis":{"values":[1.518,1.52,1.522,1.524,1.526,1.528,1.53,1.532,1.534,1.536,1.538,1.54,1.542,1.544,1.546,1.548,1.55,1.552,1.554,1.556,1.558,1.56,1.562,1.564,1.566,1.568],"labels":false,"title":null}},"y":{"datum":0.6,"type":"quantitative","axis":{"values":[0.6,1],"labelExpr":"datum.value==1?'1.':'0.6'","title":"R (arb. units)","titleX":-45,"titleY":54,"titleAngle":270,"titleBaseline":"middle","titleAlign":"center","titleColor":"#333"}},"text":{"field":"t","type":"nominal"}}}
  ]},
 {"width":244,"height":63,
  "layer":[
   {"encoding":{"x":{"field":"x","type":"quantitative","scale":{"domain":[1.516,1.5702],"nice":false,"zero":false},"axis":{"values":[1.518,1.52,1.522,1.524,1.526,1.528,1.53,1.532,1.534,1.536,1.538,1.54,1.542,1.544,1.546,1.548,1.55,1.552,1.554,1.556,1.558,1.56,1.562,1.564,1.566,1.568],"labels":false,"title":null}},
     "y":{"field":"y","type":"quantitative","scale":{"domain":[0.551,1.065],"nice":false,"zero":false},"axis":{"values":[0.6,1],"labelExpr":"datum.value==1?'1.':'0.6'","title":null}}},
    "layer":[
     {"data":{"name":"calc"},"transform":[{"filter":"datum.p==4"}],"mark":{"type":"line","color":"#5E81B5","strokeWidth":5,"opacity":0.25,"interpolate":"monotone"}},
     {"data":{"name":"calc"},"transform":[{"filter":"datum.p==4"}],"mark":{"type":"line","color":"#5E81B5","strokeWidth":2.5,"interpolate":"monotone"}},
     {"data":{"name":"exp"},"transform":[{"filter":"datum.p==4"}],"mark":{"type":"circle","color":"#8FB032","size":11,"opacity":1}},
     {"data":{"name":"phot"},"transform":[{"filter":"datum.p==4"}],"mark":{"type":"line","color":"#FF0000","strokeWidth":2.5,"strokeDash":[4,3],"interpolate":"monotone"}}
    ]},
   {"data":{"name":"lab"},"transform":[{"filter":"datum.p==4"}],"mark":{"type":"text","align":"right","baseline":"alphabetic","fontSize":14,"color":"#222"},"encoding":{"x":{"datum":1.5695,"type":"quantitative","axis":{"values":[1.518,1.52,1.522,1.524,1.526,1.528,1.53,1.532,1.534,1.536,1.538,1.54,1.542,1.544,1.546,1.548,1.55,1.552,1.554,1.556,1.558,1.56,1.562,1.564,1.566,1.568],"labels":false,"title":null}},"y":{"datum":0.6,"type":"quantitative","axis":{"values":[0.6,1],"labelExpr":"datum.value==1?'1.':'0.6'","title":null}},"text":{"field":"t","type":"nominal"}}}
  ]},
 {"width":244,"height":63,
  "layer":[
   {"encoding":{"x":{"field":"x","type":"quantitative","scale":{"domain":[1.516,1.5702],"nice":false,"zero":false},"axis":{"values":[1.518,1.52,1.522,1.524,1.526,1.528,1.53,1.532,1.534,1.536,1.538,1.54,1.542,1.544,1.546,1.548,1.55,1.552,1.554,1.556,1.558,1.56,1.562,1.564,1.566,1.568],"labelExpr":"abs(datum.value*100-round(datum.value*100))<0.01?format(datum.value,'.2f'):''","labelOverlap":false,"labelFlush":false,"title":"Energy (eV)","titlePadding":8}},
     "y":{"field":"y","type":"quantitative","scale":{"domain":[0.551,1.065],"nice":false,"zero":false},"axis":{"values":[0.6,1],"labelExpr":"datum.value==1?'1.':'0.6'","title":null}}},
    "layer":[
     {"data":{"name":"calc"},"transform":[{"filter":"datum.p==5"}],"mark":{"type":"line","color":"#5E81B5","strokeWidth":5,"opacity":0.25,"interpolate":"monotone"}},
     {"data":{"name":"calc"},"transform":[{"filter":"datum.p==5"}],"mark":{"type":"line","color":"#5E81B5","strokeWidth":2.5,"interpolate":"monotone"}},
     {"data":{"name":"exp"},"transform":[{"filter":"datum.p==5"}],"mark":{"type":"circle","color":"#8FB032","size":11,"opacity":1}},
     {"data":{"name":"phot"},"transform":[{"filter":"datum.p==5"}],"mark":{"type":"line","color":"#FF0000","strokeWidth":2.5,"strokeDash":[4,3],"interpolate":"monotone"}}
    ]},
   {"data":{"name":"lab"},"transform":[{"filter":"datum.p==5"}],"mark":{"type":"text","align":"right","baseline":"alphabetic","fontSize":14,"color":"#222"},"encoding":{"x":{"datum":1.5695,"type":"quantitative","axis":{"values":[1.518,1.52,1.522,1.524,1.526,1.528,1.53,1.532,1.534,1.536,1.538,1.54,1.542,1.544,1.546,1.548,1.55,1.552,1.554,1.556,1.558,1.56,1.562,1.564,1.566,1.568],"labelExpr":"abs(datum.value*100-round(datum.value*100))<0.01?format(datum.value,'.2f'):''","labelOverlap":false,"labelFlush":false,"title":"Energy (eV)","titlePadding":8}},"y":{"datum":0.6,"type":"quantitative","axis":{"values":[0.6,1],"labelExpr":"datum.value==1?'1.':'0.6'","title":null}},"text":{"field":"t","type":"nominal"}}}
  ]}
 ],
 "spacing":6,
 "bounds":"flush"
},
{"vconcat":[
 {"width":160,"height":57,
  "view":{"stroke":"transparent"},
  "data":{"name":"leg"},
  "encoding":{"y":{"field":"label","type":"nominal","scale":{"type":"point","domain":["Calculation","Calc. photonic mode","Experiment"],"padding":0.08},"axis":null}},
  "layer":[
   {"transform":[{"filter":"datum.label=='Calculation'"}],"mark":{"type":"rule","color":"#5E81B5","strokeWidth":2.5},"encoding":{"x":{"datum":-0.6,"type":"quantitative","scale":{"domain":[0,16],"nice":false,"zero":false},"axis":null},"x2":{"datum":3.5}}},
   {"transform":[{"filter":"datum.label=='Calc. photonic mode'"}],"mark":{"type":"rule","color":"#FF0000","strokeWidth":2.5,"strokeDash":[4,3]},"encoding":{"x":{"datum":-0.6,"type":"quantitative","scale":{"domain":[0,16],"nice":false,"zero":false},"axis":null},"x2":{"datum":3.5}}},
   {"transform":[{"filter":"datum.label=='Experiment'"}],"mark":{"type":"circle","color":"#8FB032","size":64,"opacity":1},"encoding":{"x":{"datum":1.4,"type":"quantitative","scale":{"domain":[0,16],"nice":false,"zero":false},"axis":null}}},
   {"mark":{"type":"text","align":"left","baseline":"middle","fontSize":15,"fontWeight":"bold","color":"#111"},"encoding":{"x":{"datum":4.4,"type":"quantitative","scale":{"domain":[0,16],"nice":false,"zero":false},"axis":null},"text":{"field":"label"}}}
  ]},
 {"width":160,"height":260,
  "layer":[
   {"data":{"name":"q"},
    "encoding":{
     "x":{"field":"dE","type":"quantitative","scale":{"domain":[-0.86,26.72],"reverse":true,"nice":false,"zero":false},"axis":{"values":[0,5,10,15,20,25],"title":"ΔE (meV)","titlePadding":8}},
     "y":{"field":"Q","type":"quantitative","scale":{"domain":[179,265.67],"nice":false,"zero":false},"axis":{"orient":"right","values":[180,200,220,240,260],"title":"Q","titleAngle":270,"titleFontSize":17,"titlePadding":19}}
    },
    "layer":[
     {"mark":{"type":"line","color":"#FF0000","strokeWidth":1.5}},
     {"mark":{"type":"circle","color":"#FF0000","size":115,"opacity":1}}
    ]},
   {"data":{"name":"tag"},"transform":[{"filter":"datum.t=='(b)'"}],"mark":{"type":"text","align":"center","baseline":"middle","fontSize":18,"fontWeight":"bold","color":"#111"},"encoding":{"x":{"datum":23.0,"type":"quantitative","axis":{"values":[0,5,10,15,20,25],"title":"ΔE (meV)","titlePadding":8}},"y":{"datum":259.3,"type":"quantitative","axis":{"orient":"right","values":[180,200,220,240,260],"title":"Q","titleAngle":270,"titleFontSize":17,"titlePadding":19}},"text":{"field":"t","type":"nominal"}}}
  ]}
 ],
 "spacing":16,
 "bounds":"flush"
}
]
}
